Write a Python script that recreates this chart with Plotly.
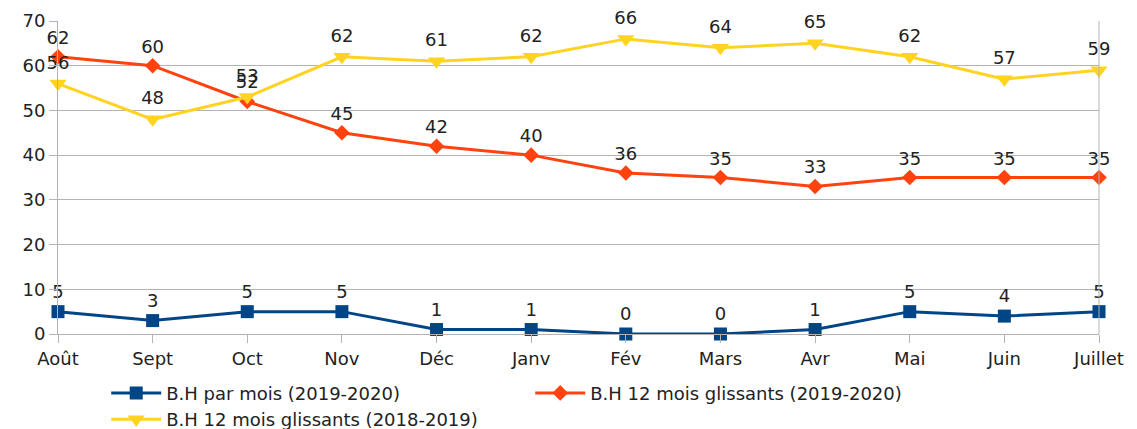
import plotly.graph_objects as go

months = ["Août", "Sept", "Oct", "Nov", "Déc", "Janv", "Fév", "Mars", "Avr", "Mai", "Juin", "Juillet"]
bh_par_mois = [5, 3, 5, 5, 1, 1, 0, 0, 1, 5, 4, 5]
bh_12_2019_2020 = [62, 60, 52, 45, 42, 40, 36, 35, 33, 35, 35, 35]
bh_12_2018_2019 = [56, 48, 53, 62, 61, 62, 66, 64, 65, 62, 57, 59]
y_ticks = [0, 10, 20, 30, 40, 50, 60, 70]

font = "DejaVu Sans, Liberation Sans, Arial, sans-serif"
fs = 18
fig = go.Figure()

series = [
    ("B.H par mois (2019-2020)", bh_par_mois, "#004586", "square", 13),
    ("B.H 12 mois glissants (2019-2020)", bh_12_2019_2020, "#ff420e", "diamond", 12),
    ("B.H 12 mois glissants (2018-2019)", bh_12_2018_2019, "#ffd320", "triangle-down", 15),
]
for name, vals, color, sym, size in series:
    fig.add_trace(go.Scatter(
        x=months, y=vals, name=name, mode="lines+markers+text",
        line=dict(color=color, width=3),
        marker=dict(symbol=sym, size=size, color=color),
        text=[str(v) for v in vals], textposition="top center",
        textfont=dict(size=fs, color="#222222", family=font),
        cliponaxis=False,
    ))

# page body has an 8px margin, so the figure is 1129x421 placed at (8, 8)
fig.update_layout(
    width=1129, height=421,
    margin=dict(l=50, r=38, t=13, b=95),
    plot_bgcolor="white", paper_bgcolor="white",
    font=dict(family=font, size=fs, color="#222222"),
    showlegend=True,
    legend=dict(orientation="h", x=0.087, y=0.129, xref="container", yref="container",
                xanchor="left", yanchor="top",
                entrywidth=359, entrywidthmode="pixels",
                font=dict(size=fs, family=font, color="#222222"),
                tracegroupgap=0, itemwidth=50),
    xaxis=dict(range=[0, 11], showgrid=False, showline=True, linecolor="#b3b3b3",
               ticks="outside", ticklen=8, tickcolor="#b3b3b3", mirror=False,
               tickfont=dict(size=fs), zeroline=False, automargin=False),
    yaxis=dict(range=[0, 70], tickvals=y_ticks, showgrid=True, gridcolor="#b3b3b3",
               showline=True, linecolor="#b3b3b3", ticks="outside", ticklen=8,
               tickcolor="#b3b3b3", tickfont=dict(size=fs), zeroline=False,
               automargin=False),
)
fig.add_shape(type="line", xref="paper", yref="paper", x0=1, x1=1, y0=0, y1=1,
              line=dict(color="#b3b3b3", width=1))

fig.write_html("out.html")
